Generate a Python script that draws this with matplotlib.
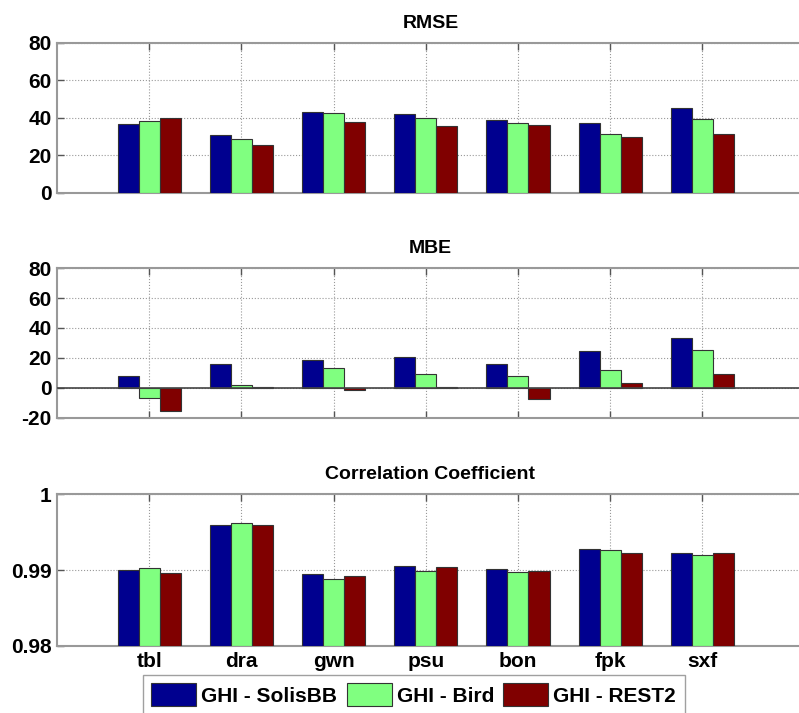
import numpy as np
import matplotlib
matplotlib.use("Agg")
import matplotlib.pyplot as plt

sites = ["tbl", "dra", "gwn", "psu", "bon", "fpk", "sxf"]
series = ["GHI - SolisBB", "GHI - Bird", "GHI - REST2"]
colors = ["#00008F", "#80FF80", "#800000"]

rmse_solis = [36.5, 30.5, 43.1, 42.1, 38.7, 37.3, 45.1]
rmse_bird = [38.3, 28.5, 42.4, 39.7, 37.3, 31.2, 39.4]
rmse_rest2 = [39.7, 25.3, 37.6, 35.5, 36.0, 29.6, 31.2]

mbe_solis = [8.1, 15.9, 18.4, 20.9, 15.9, 24.4, 33.4]
mbe_bird = [-6.5, 2.2, 13.2, 9.2, 8.1, 11.7, 25.3]
mbe_rest2 = [-15.7, 0.5, -1.5, 0.8, -7.6, 3.1, 9.2]

cc_solis = [0.99004, 0.99593, 0.98947, 0.99049, 0.99018, 0.99279, 0.99226]
cc_bird = [0.99022, 0.99620, 0.98885, 0.98990, 0.98978, 0.99270, 0.99200]
cc_rest2 = [0.98965, 0.99593, 0.98920, 0.99035, 0.98982, 0.99221, 0.99226]

plt.rcParams['font.family'] = ['Liberation Sans', 'DejaVu Sans']

fig = plt.figure(figsize=(7.99, 7.13), dpi=100)
L = 0.0713
x_max = 8.1
W = x_max * 92.2 / 799
axes_specs = [
    ("RMSE", [rmse_solis, rmse_bird, rmse_rest2], (0, 80), [0, 20, 40, 60, 80], ["0", "20", "40", "60", "80"], 0.730, 0.940),
    ("MBE", [mbe_solis, mbe_bird, mbe_rest2], (-20, 80), [-20, 0, 20, 40, 60, 80], ["-20", "0", "20", "40", "60", "80"], 0.414, 0.624),
    ("Correlation Coefficient", [cc_solis, cc_bird, cc_rest2], (0.98, 1.0), [0.98, 0.99, 1.0], ["0.98", "0.99", "1"], 0.094, 0.307),
]

x = np.arange(1, len(sites) + 1)
bw = 0.228
offsets = [-bw, 0, bw]
handles = None
for i, (title, data, ylim, yt, ytl, b, t) in enumerate(axes_specs):
    ax = fig.add_axes([L, b, W, t - b])
    hs = []
    base = ylim[0] if title == "Correlation Coefficient" else 0
    for k in range(3):
        vals = np.array(data[k]) - base
        h = ax.bar(x + offsets[k], vals, width=bw, bottom=base, color=colors[k],
                   edgecolor="#333333", linewidth=0.8, label=series[k], zorder=3)
        hs.append(h)
    if handles is None:
        handles = hs
    if title == "MBE":
        ax.axhline(0, color="#444444", linewidth=1.2, zorder=4)
    ax.set_xlim(0, x_max)
    ax.set_ylim(*ylim)
    ax.set_yticks(yt)
    ax.set_yticklabels(ytl, fontsize=15, fontweight="bold")
    ax.set_xticks(x)
    if i == 2:
        ax.set_xticklabels(sites, fontsize=15, fontweight="bold")
    else:
        ax.set_xticklabels([])
    ax.grid(True, linestyle=":", color="#999999", linewidth=0.8, zorder=0)
    ax.tick_params(direction="in", top=True, right=False, length=5, width=1, colors="#555555",
                   labelcolor="black", pad=4)
    for s in ax.spines.values():
        s.set_color("#999999")
        s.set_linewidth(1.5)
    ax.spines["right"].set_visible(False)
    ax.set_title(title, fontsize=14, fontweight="bold", pad=11)

fig.legend(handles, series, loc="upper left", bbox_to_anchor=(0.179, 0.0533), ncol=3,
           prop={"size": 15, "weight": "bold"}, frameon=True, fancybox=False, edgecolor="#888888",
           handlelength=2.15, handleheight=1.3, columnspacing=0.45, handletextpad=0.25,
           borderpad=0.4, borderaxespad=0)

fig.savefig("out.png", dpi=100)
